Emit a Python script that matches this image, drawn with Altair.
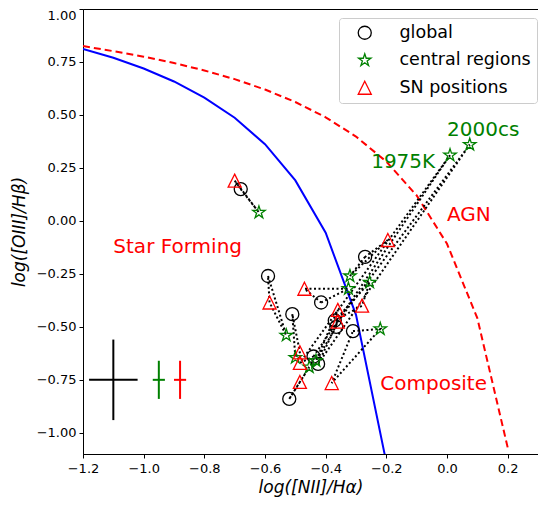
import altair as alt
import pandas as pd

# --- demarcation curves ---
kauff_x = [-1.2, -1.1, -1.0, -0.9, -0.8, -0.7, -0.6, -0.5, -0.4, -0.3, -0.2]
kauff_y = [0.812, 0.770, 0.719, 0.658, 0.582, 0.487, 0.362, 0.191, -0.056, -0.443, -1.140]
kewley_x = [-1.2, -1.1, -1.0, -0.9, -0.8, -0.7, -0.6, -0.5, -0.4, -0.3, -0.2, -0.1, 0.0, 0.1, 0.2]
kewley_y = [0.825, 0.801, 0.775, 0.745, 0.710, 0.669, 0.620, 0.561, 0.489, 0.398, 0.280, 0.120, -0.108, -0.459, -1.069]

# --- measurements ---
glob_x = [-0.68, -0.59, -0.27, -0.415, -0.37, -0.365, -0.51, -0.31, -0.44, -0.425, -0.52]
glob_y = [0.15, -0.26, -0.17, -0.385, -0.47, -0.50, -0.44, -0.52, -0.64, -0.675, -0.84]
cen_x = [-0.62, 0.01, 0.075, -0.32, -0.255, -0.325, -0.22, -0.53, -0.50, -0.432, -0.454]
cen_y = [0.04, 0.31, 0.36, -0.26, -0.29, -0.32, -0.51, -0.54, -0.645, -0.66, -0.69]
sn_x = [-0.70, -0.195, -0.47, -0.585, -0.28, -0.36, -0.36, -0.485, -0.485, -0.485, -0.38]
sn_y = [0.19, -0.09, -0.32, -0.385, -0.40, -0.42, -0.475, -0.62, -0.67, -0.76, -0.765]

# galaxy membership: (global index, central index, SN index)
galaxies = [(0, 0, 0), (1, 7, 3), (6, 8, 7), (7, 6, 10), (10, 10, 9), (2, 3, 1),
            (3, 5, 2), (4, 4, 4), (5, 9, 5), (8, 1, 8), (9, 2, 6)]

# error bars
err_x = [-1.1, -0.95, -0.88]
err_y = [-0.75, -0.75, -0.75]
err_dx = [0.08, 0.02, 0.02]
err_dy = [0.19, 0.09, 0.09]
err_col = ["black", "green", "red"]

STAR = ("M0,-1L0.2245,-0.309L0.9511,-0.309L0.3633,0.118L0.5878,0.809L0,0.382"
        "L-0.5878,0.809L-0.3633,0.118L-0.9511,-0.309L-0.2245,-0.309Z")
TRI = "M0,-1L1,1L-1,1Z"

series_names = ["global", "central regions", "SN positions"]
series_colors = ["black", "green", "red"]
series_shapes = ["circle", STAR, TRI]

# labels
lab_text = ["Star Forming", "AGN", "Composite", "1975K", "2000cs"]
lab_x = [-1.1, 0.0, -0.22, -0.25, 0.0]
lab_y = [-0.15, 0.0, -0.80, 0.25, 0.40]
lab_col = ["red", "red", "red", "green", "green"]

# ---- build tables ----
pts = pd.concat([
    pd.DataFrame({"x": glob_x, "y": glob_y, "series": "global"}),
    pd.DataFrame({"x": cen_x, "y": cen_y, "series": "central regions"}),
    pd.DataFrame({"x": sn_x, "y": sn_y, "series": "SN positions"}),
], ignore_index=True)

rows = []
for g, (ci, si, ti) in enumerate(galaxies):
    verts = [(glob_x[ci], glob_y[ci]), (cen_x[si], cen_y[si]), (sn_x[ti], sn_y[ti]), (glob_x[ci], glob_y[ci])]
    for k, (xx, yy) in enumerate(verts):
        rows.append({"g": g, "o": k, "x": xx, "y": yy})
links = pd.DataFrame(rows)

kauff = pd.DataFrame({"x": kauff_x, "y": kauff_y, "o": range(len(kauff_x))})
kewley = pd.DataFrame({"x": kewley_x, "y": kewley_y, "o": range(len(kewley_x))})

erows = []
for xx, yy, dx, dy, c in zip(err_x, err_y, err_dx, err_dy, err_col):
    erows.append({"x": xx - dx, "x2": xx + dx, "y": yy, "y2": yy, "c": c})
    erows.append({"x": xx, "x2": xx, "y": yy - dy, "y2": yy + dy, "c": c})
errs = pd.DataFrame(erows)

labels = pd.DataFrame({"x": lab_x, "y": lab_y, "t": lab_text, "c": lab_col})

# ---- scales / axes ----
xs = alt.Scale(domain=[-1.2, 0.3], nice=False, zero=False)
ys = alt.Scale(domain=[-1.1, 1.0], nice=False, zero=False)
xax = alt.Axis(values=[-1.2, -1.0, -0.8, -0.6, -0.4, -0.2, 0.0, 0.2], orient="bottom",
               labelExpr="replace(format(datum.value, '.1f'), '-', '\u2212')",
               title="log([NII]/H\u03b1)", grid=False, labelPadding=4, titlePadding=4,
               labelFlush=False)
yax = alt.Axis(values=[-1.0, -0.75, -0.5, -0.25, 0.0, 0.25, 0.5, 0.75, 1.0], orient="left",
               labelExpr="replace(format(datum.value, '.2f'), '-', '\u2212')",
               title="log([OIII]/H\u03b2)", grid=False, labelPadding=3, titlePadding=8,
               labelFlush=True)

X = alt.X("x:Q", scale=xs, axis=xax)
Y = alt.Y("y:Q", scale=ys, axis=yax)

leg = alt.Legend(title=None, orient="none", legendX=256, legendY=9,
                 strokeColor="#cccccc", fillColor="white", cornerRadius=3,
                 padding=6, labelFontSize=17.5, labelFont="DejaVu Sans",
                 symbolSize=170, symbolStrokeWidth=1.3, rowPadding=8.5,
                 labelOffset=26, symbolOffset=11, labelColor="black")

points = alt.Chart(pts).mark_point(filled=False, strokeWidth=1.3, size=170, opacity=1).encode(
    x=X, y=Y,
    color=alt.Color("series:N", scale=alt.Scale(domain=series_names, range=series_colors), legend=leg),
    shape=alt.Shape("series:N", scale=alt.Scale(domain=series_names, range=series_shapes), legend=leg),
)

kauff_line = alt.Chart(kauff).mark_line(color="blue", strokeWidth=2, clip=True).encode(x=X, y=Y, order="o:Q")
kewley_line = alt.Chart(kewley).mark_line(color="red", strokeWidth=2, strokeDash=[7, 4], clip=True).encode(x=X, y=Y, order="o:Q")

link_lines = alt.Chart(links).mark_line(color="black", strokeWidth=2, strokeDash=[2, 2.5]).encode(
    x=X, y=Y, detail="g:N", order="o:Q")

err_rules = alt.Chart(errs).mark_rule(strokeWidth=2).encode(
    x=X, x2="x2:Q", y=Y, y2="y2:Q", stroke=alt.Stroke("c:N", scale=None))

texts = alt.Chart(labels).mark_text(align="left", baseline="alphabetic", fontSize=20, font="DejaVu Sans").encode(
    x=X, y=Y, text="t:N", fill=alt.Fill("c:N", scale=None))

chart = alt.layer(kauff_line, kewley_line, link_lines, err_rules, points, texts).properties(
    width=455, height=445,
    autosize=alt.AutoSizeParams(type="none"),
    padding={"left": 75, "top": 1, "right": 0, "bottom": 45},
).configure_axis(
    labelFont="DejaVu Sans", labelFontSize=13, labelColor="black",
    titleFont="DejaVu Sans", titleFontSize=17, titleFontStyle="italic", titleFontWeight="normal",
    titleColor="black", tickColor="black", domainColor="black", tickSize=4,
).configure_view(stroke="black", strokeWidth=1)

chart.save("out.html", embed_options={"renderer": "svg", "actions": False})
